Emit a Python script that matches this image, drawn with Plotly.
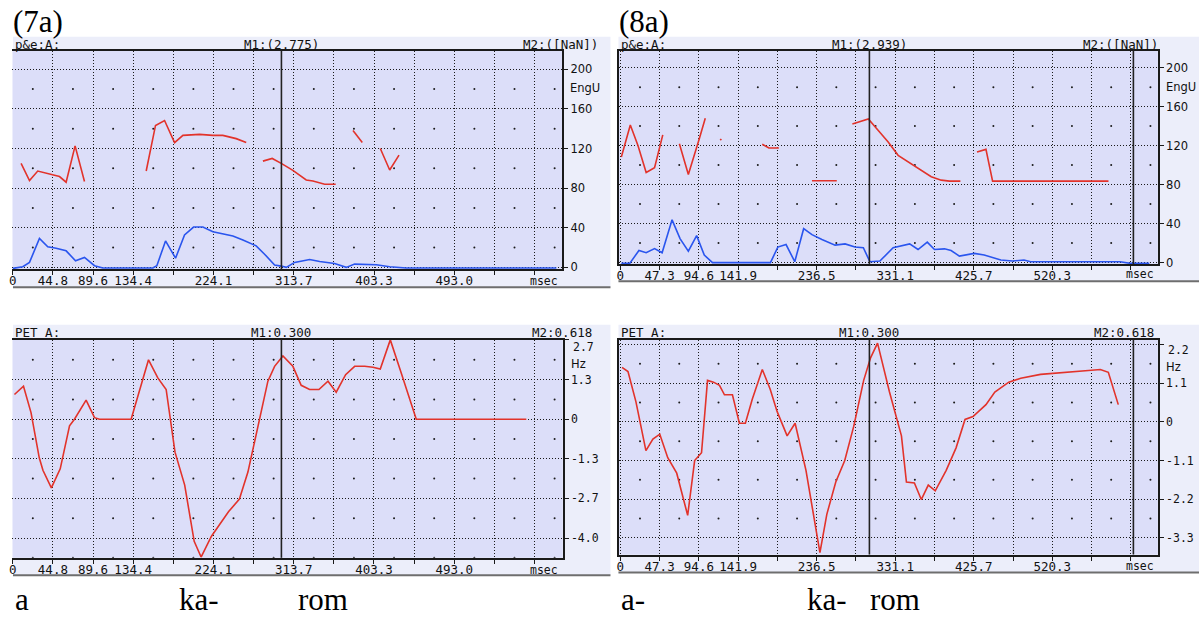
import plotly.graph_objects as go

W, H = 1199, 617

# ---------------- DATA ----------------
# (7a) upper panel "p&e:A:" (EngU): red = pitch track, blue = amplitude track
f0_7a_ms = [9.3, 18.7, 27.9, 37.2, 44.7, 52.2, 59.6, 69.6, 80.1, None,
            149.0, 154.5, 159.4, 169.5, 180.7, 190.0, 208.6, 223.5, 234.6, 249.5, 260.7, None,
            279.3, 289.7, 299.8, 312.8, 327.7, 335.2, 348.3, 360.6, None,
            379.9, 390.3, None,
            410.4, 420.9, 431.3]
f0_7a_val = [105.0, 87.7, 97.3, 95.0, 93.3, 91.7, 86.0, 122.7, 86.7, None,
             97.3, 123.3, 143.3, 148.3, 126.0, 133.3, 134.3, 133.3, 133.3, 130.0, 126.0, None,
             107.3, 110.0, 105.0, 98.0, 88.3, 87.3, 84.0, 84.0, None,
             138.3, 126.0, None,
             120.0, 98.3, 113.3]
amp_7a_ms = [0, 11.2, 18.7, 29.8, 39.1, 48.4, 59.6, 70.1, 80.1, 91.3,
             100.6, 156.4, 160.9, 170.6, 181.8, 191.8, 201.9, 212.3, 223.5, 234.6,
             245.8, 257.0, 271.8, 281.2, 292.4, 299.8, 305.4, 314.7, 331.5, 342.7,
             359.4, 372.4, 381.7, 405.9, 420.9, 439.4, 607.0]
amp_7a_val = [-1.0, 0.7, 5.0, 29.3, 20.7, 19.3, 16.7, 6.7, 10.0, 1.7,
              -0.7, -0.7, 1.7, 26.7, 9.3, 32.7, 40.7, 40.7, 36.0, 34.0,
              31.7, 27.7, 21.7, 13.3, 2.3, 1.3, 0.0, 5.0, 8.0, 6.0,
              4.0, 0.0, 3.3, 2.7, 0.7, -0.7, -0.7]

# (7a) lower panel "PET A:" (Hz)
pet_7a_ms = [1.9, 12.0, 20.4, 29.6, 33.7, 43.1, 53.0, 63.4, 68.9, 81.9,
             91.3, 96.9, 132.2, 151.6, 162.0, 171.3, 181.2, 192.0, 202.6, 210.3,
             221.9, 241.1, 253.1, 262.6, 275.6, 284.9, 292.4, 301.7, 312.8, 322.1,
             331.5, 341.9, 352.0, 361.2, 371.7, 381.8, 393.0, 402.2, 410.4, 421.6,
             433.9, 450.6, 573.5]
pet_7a_val = [0.83, 1.11, 0.22, -1.30, -1.72, -2.31, -1.67, -0.22, 0.0, 0.64,
              0.05, 0.0, 0.0, 2.00, 1.39, 1.00, -1.11, -2.22, -4.11, -4.64,
              -3.94, -3.11, -2.69, -1.78, 0.0, 1.28, 1.78, 2.13, 1.78, 1.14,
              1.00, 1.00, 1.28, 0.91, 1.50, 1.78, 1.78, 1.75, 1.69, 2.67,
              1.55, 0.0, 0.0]

# (8a) upper panel "p&e:A:" (EngU)
f0_8a_ms = [1.2, 12.0, 21.2, 31.1, 41.2, 51.1, None,
            71.1, 81.9, 95.1, 102.3, None,
            120.3, 121.7, None,
            170.9, 178.9, 190.9, None,
            230.8, 260.7, None,
            279.5, 298.7, 310.7, 322.6, 334.6, 350.5, 362.5, 374.5, 386.5, 396.4, 409.6, None,
            429.6, 440.4, 448.4, 588.0]
f0_8a_val = [108.3, 141.2, 120.1, 92.4, 97.2, 131.0, None,
             121.9, 90.3, 127.0, 148.0, None,
             126.8, 125.6, None,
             121.4, 117.5, 117.5, None,
             83.9, 83.9, None,
             142.2, 147.3, 135.4, 123.6, 110.0, 101.5, 94.7, 88.0, 84.5, 83.5, 83.5, None,
             113.4, 116.1, 83.5, 83.5]
amp_8a_ms = [1.2, 11.3, 22.4, 31.1, 41.2, 50.3, 62.3, 71.9, 81.9, 91.9,
             101.1, 111.0, 180.8, 189.7, 199.6, 210.1, 220.8, 230.8, 242.8, 258.7,
             270.7, 282.6, 292.7, 300.6, 312.6, 328.6, 348.5, 358.6, 369.7, 378.4,
             390.4, 398.4, 408.4, 426.3, 438.3, 458.3, 472.3, 486.2, 494.2, 602.0,
             614.0, 637.1]
amp_8a_val = [-0.9, -0.9, 12.3, 10.0, 14.3, 10.0, 43.8, 24.5, 11.7, 27.6,
              7.6, -0.2, -0.2, 15.8, 18.4, 0.8, 34.7, 28.6, 23.5, 17.8,
              19.1, 15.8, 15.1, 0.8, 1.5, 15.1, 19.1, 13.3, 20.9, 13.3,
              14.0, 12.3, 6.6, 9.3, 7.6, 2.5, 1.5, 2.5, 0.8, 0.8,
              -0.9, -0.9]

# (8a) lower panel "PET A:" (Hz)
pet_8a_ms = [2.0, 9.2, 18.8, 30.8, 39.2, 47.5, 57.1, 67.9, 81.1, 89.5,
             97.8, 105.0, 112.2, 119.4, 125.4, 135.0, 143.4, 150.6, 159.0, 171.0,
             180.5, 188.9, 200.9, 210.5, 223.6, 230.8, 240.4, 248.7, 259.5, 270.3,
             281.1, 293.1, 301.4, 309.8, 324.2, 338.6, 344.6, 354.2, 362.5, 370.9,
             379.3, 392.5, 404.4, 415.2, 424.8, 440.4, 451.1, 467.9, 482.3, 506.2,
             544.6, 563.8, 578.2, 587.8, 599.8]
pet_8a_val = [1.55, 1.43, 0.57, -0.82, -0.49, -0.35, -1.02, -1.46, -2.66, -1.10,
              -0.88, 1.18, 1.13, 1.04, 0.77, 0.77, -0.04, -0.04, 0.65, 1.49,
              0.93, 0.29, -0.40, -0.04, -1.38, -2.44, -3.72, -2.63, -1.71, -1.10,
              -0.13, 1.18, 1.82, 2.24, 0.85, -0.40, -1.71, -1.74, -2.21, -1.80,
              -1.96, -1.38, -0.74, 0.07, 0.15, 0.49, 0.85, 1.13, 1.24, 1.35,
              1.41, 1.46, 1.49, 1.41, 0.49]

cursor_m1_ms = 300.0   # M1:0.300
cursor_m2_ms = 618.0   # M2:0.618

x_step_7a = 44.82
x_step_8a = 47.3
x_labels_7a = ["0", "44.8", "89.6", "134.4", "", "224.1", "", "313.7", "", "403.3", "", "493.0", "", ""]
x_labels_8a = ["0", "47.3", "94.6", "141.9", "", "236.5", "", "331.1", "", "425.7", "", "520.3", "", ""]
engu_ticks = [0, 40, 80, 120, 160, 200]
engu_labels = ["0", "40", "80", "120", "160", "200"]
hz_ticks_7a = [-4.0, -2.6667, -1.3333, 0.0, 1.3333, 2.6667]
hz_labels_7a = ["-4.0", "-2.7", "-1.3", "0", "1.3", "2.7"]
hz_ticks_8a = [-3.3, -2.2, -1.1, 0.0, 1.1, 2.2]
hz_labels_8a = ["-3.3", "-2.2", "-1.1", "0", "1.1", "2.2"]

# ---------------- STYLE / LAYOUT ----------------
RED = "#e2332b"
BLUE = "#2a55ee"
INK = "#1a1a1a"
PANEL_BG = "#eceefa"
PLOT_BG = "#dcdef9"
MONO = "DejaVu Sans Mono"
SANS = "DejaVu Sans"
SERIF = "Liberation Serif"


def fx(px):
    return px / W


def fy(py):
    return 1 - py / H


panels = [
    dict(n="", left=9.5, right=560.5, top=51, bottom=272, xr=[-0.31, 613.4], yr=[-2.0, 219.0],
         step=x_step_7a, xl=x_labels_7a, yt=engu_ticks, yl=engu_labels, yfont=SANS, mirror=False,
         bg=(10, 609, 37, 290), unit="EngU", unit_py=89, head="p&e:A:", m1="M1:(2.775)", m2="M2:([NaN])",
         m2_right=598, head_py=44.5, msec_py=284, top_lbl_shift=0),
    dict(n="2", left=9.5, right=561, top=343, bottom=563.3, xr=[-0.31, 614.0], yr=[-4.667, 2.677],
         step=x_step_7a, xl=x_labels_7a, yt=hz_ticks_7a, yl=hz_labels_7a, yfont=MONO, mirror=False,
         bg=(10, 609, 328, 581), unit="Hz", unit_py=368, head="PET A:", m1="M1:0.300", m2="M2:0.618",
         m2_right=592, head_py=335.5, msec_py=576, top_lbl_shift=7),
    dict(n="3", left=617.3, right=1157.7, top=51, bottom=266.5, xr=[-1.92, 647.4], yr=[-1.47, 217.6],
         step=x_step_8a, xl=x_labels_8a, yt=engu_ticks, yl=engu_labels, yfont=SANS, mirror=True,
         bg=(617, 1199, 37, 284), unit="EngU", unit_py=88, head="p&e:A:", m1="M1:(2.939)", m2="M2:([NaN])",
         m2_right=1160, head_py=44.5, msec_py=277, top_lbl_shift=0),
    dict(n="4", left=617.3, right=1157.7, top=343, bottom=560, xr=[-1.92, 647.4], yr=[-3.775, 2.338],
         step=x_step_8a, xl=x_labels_8a, yt=hz_ticks_8a, yl=hz_labels_8a, yfont=MONO, mirror=True,
         bg=(617, 1199, 328, 578), unit="Hz", unit_py=371, head="PET A:", m1="M1:0.300", m2="M2:0.618",
         m2_right=1156, head_py=335.5, msec_py=572, top_lbl_shift=5),
]

series = [
    ("", [(f0_7a_ms, f0_7a_val, RED), (amp_7a_ms, amp_7a_val, BLUE)]),
    ("2", [(pet_7a_ms, pet_7a_val, RED)]),
    ("3", [(f0_8a_ms, f0_8a_val, RED), (amp_8a_ms, amp_8a_val, BLUE)]),
    ("4", [(pet_8a_ms, pet_8a_val, RED)]),
]

fig = go.Figure()
shapes = []
annotations = []
layout_axes = {}

for p in panels:
    n = p["n"]
    xa, ya = "x" + n, "y" + n
    x0, x1, y0, y1 = p["bg"]
    shapes.append(dict(type="rect", xref="paper", yref="paper", x0=fx(x0), x1=fx(x1), y0=fy(y1), y1=fy(y0),
                       fillcolor=PANEL_BG, line=dict(width=0), layer="below"))
    shapes.append(dict(type="rect", xref="paper", yref="paper", x0=fx(p["left"]), x1=fx(p["right"]),
                       y0=fy(p["bottom"]), y1=fy(p["top"]), fillcolor=PLOT_BG, line=dict(width=0), layer="below"))
    shapes.append(dict(type="line", xref="paper", yref="paper", x0=fx(x0), x1=fx(x1), y0=fy(y1), y1=fy(y1),
                       line=dict(color="#6e6e6e", width=2), layer="below"))

    nt = len(p["xl"])
    xt = [p["step"] * k for k in range(nt)]
    layout_axes["xaxis" + n] = dict(
        domain=[fx(p["left"]), fx(p["right"])], range=p["xr"], anchor=ya,
        tickmode="array", tickvals=xt, ticktext=p["xl"],
        showgrid=True, gridcolor=INK, gridwidth=1, griddash="1px,2px", zeroline=False,
        showline=True, linecolor=INK, linewidth=2, mirror=True,
        ticks="outside", ticklen=4, tickwidth=1, tickcolor=INK, ticklabelstandoff=-5,
        tickfont=dict(family=MONO, size=12.5, color="#111"), fixedrange=True)

    ylabels = list(p["yl"])
    if p["top_lbl_shift"]:
        top_txt = ylabels[-1]
        ylabels[-1] = ""
        annotations.append(dict(text=top_txt, x=fx(p["right"] + 8), y=p["yt"][-1], xref="paper", yref=ya,
                                xanchor="left", yanchor="middle", yshift=-p["top_lbl_shift"], showarrow=False,
                                font=dict(family=p["yfont"], size=11.5, color="#111")))
    layout_axes["yaxis" + n] = dict(
        domain=[fy(p["bottom"]), fy(p["top"])], range=p["yr"], anchor=xa, side="right",
        tickmode="array", tickvals=p["yt"], ticktext=ylabels,
        showgrid=True, gridcolor=INK, gridwidth=1, griddash="1px,2px", zeroline=False,
        showline=True, linecolor=INK, linewidth=2, mirror=p["mirror"],
        ticks="outside", ticklen=4, tickwidth=1, tickcolor=INK,
        tickfont=dict(family=p["yfont"], size=11.5, color="#111"), fixedrange=True)

    ystep = p["yt"][1] - p["yt"][0]
    xm = [p["step"] * (k + 0.5) for k in range(nt) if p["step"] * (k + 0.5) < p["xr"][1]]
    ymid_all = [p["yt"][0] + ystep * (k - 0.5) for k in range(len(p["yt"]) + 2)]
    ym = [v for v in ymid_all if p["yr"][0] < v < p["yr"][1]]
    dx, dy = [], []
    for a in xm:
        for b in ym:
            dx.append(a)
            dy.append(b)
    fig.add_trace(go.Scatter(x=dx, y=dy, mode="markers", xaxis=xa, yaxis=ya, hoverinfo="skip",
                             marker=dict(size=2, color=INK, line=dict(width=0)), showlegend=False))

    for c in (cursor_m1_ms, cursor_m2_ms):
        if p["xr"][0] < c < p["xr"][1]:
            shapes.append(dict(type="line", xref=xa, yref=ya + " domain", x0=c, x1=c, y0=0, y1=1,
                               line=dict(color="#222222", width=1.6)))

    annotations.append(dict(text=p["head"], x=fx(p["left"] + 0.5), y=fy(p["head_py"]), xref="paper", yref="paper",
                            xanchor="left", yanchor="middle", showarrow=False,
                            font=dict(family=MONO, size=12.5, color="#111")))
    annotations.append(dict(text=p["m1"], x=cursor_m1_ms, y=fy(p["head_py"]), xref=xa, yref="paper",
                            xanchor="center", yanchor="middle", showarrow=False,
                            font=dict(family=MONO, size=12.5, color="#111")))
    annotations.append(dict(text=p["m2"], x=fx(p["m2_right"]), y=fy(p["head_py"]), xref="paper", yref="paper",
                            xanchor="right", yanchor="middle", showarrow=False,
                            font=dict(family=MONO, size=12.5, color="#111")))
    annotations.append(dict(text=p["unit"], x=fx(p["right"] + 6), y=fy(p["unit_py"]), xref="paper", yref="paper",
                            xanchor="left", yanchor="middle", showarrow=False,
                            font=dict(family=SANS, size=11.5, color="#111")))
    annotations.append(dict(text="msec", x=p["step"] * (nt - 1), y=fy(p["msec_py"]), xref=xa, yref="paper",
                            xanchor="center", yanchor="middle", xshift=9, showarrow=False,
                            font=dict(family=MONO, size=11.5, color="#111")))

for n, lst in series:
    for xs, ys, col in lst:
        fig.add_trace(go.Scatter(x=xs, y=ys, mode="lines", xaxis="x" + n, yaxis="y" + n,
                                 line=dict(color=col, width=1.6), connectgaps=False,
                                 hoverinfo="skip", showlegend=False))

for txt, px in [("(7a)", 8), ("(8a)", 616)]:
    annotations.append(dict(text=txt, x=fx(px), y=fy(22), xref="paper", yref="paper", xanchor="left",
                            yanchor="middle", showarrow=False, font=dict(family=SERIF, size=31, color="black")))
for txt, px in [("a", 10), ("ka-", 174), ("rom", 294), ("a-", 618), ("ka-", 804), ("rom", 867)]:
    annotations.append(dict(text=txt, x=fx(px), y=fy(605), xref="paper", yref="paper", xanchor="left",
                            yanchor="middle", showarrow=False, font=dict(family=SERIF, size=31, color="black")))

fig.update_layout(width=W, height=H, margin=dict(l=0, r=0, t=0, b=0),
                  paper_bgcolor="white", plot_bgcolor="rgba(0,0,0,0)", showlegend=False,
                  shapes=shapes, annotations=annotations, **layout_axes)

fig.write_html("out.html", config={"displayModeBar": False},
               post_script="document.body.style.margin='0px';document.body.style.overflow='hidden';")
